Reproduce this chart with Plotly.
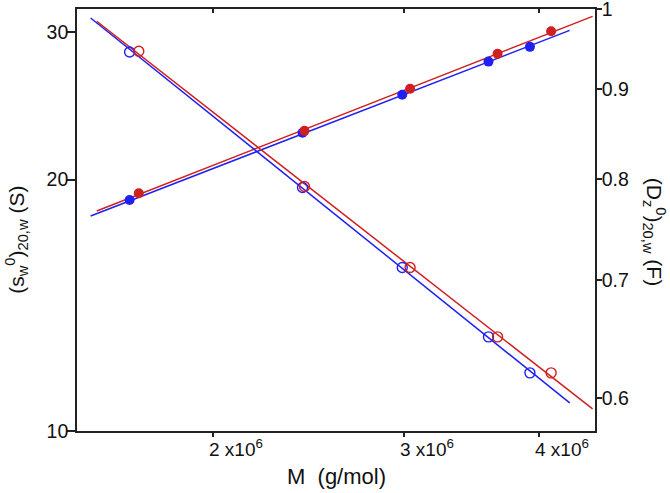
import numpy as np
import plotly.graph_objects as go

# ---- data ----
M_blue = [1.677e6, 2.42e6, 2.99e6, 3.59e6, 3.92e6]
s_blue = [18.9, 22.75, 25.26, 27.68, 28.83]
D_blue = [0.945, 0.791, 0.712, 0.650, 0.620]

M_red = [1.71e6, 2.43e6, 3.04e6, 3.66e6, 4.10e6]
s_red = [19.26, 22.87, 25.68, 28.28, 30.09]
D_red = [0.946, 0.792, 0.712, 0.650, 0.620]

# fitted power-law lines (end points)
fitM_blue = [1.544e6, 4.265e6]
fits_blue = [18.09, 30.17]
fitD_blue = [0.9883, 0.5960]
fitM_red = [1.564e6, 4.477e6]
fits_red = [18.34, 31.36]
fitD_red = [0.984, 0.5913]

x_ticks = [2e6, 3e6, 4e6]
x_ticktext = ["2 x10<sup>6</sup>", "3 x10<sup>6</sup>", "4 x10<sup>6</sup>"]
yl_ticks = [10, 20, 30]
yr_ticks = [0.6, 0.7, 0.8, 0.9, 1.0]
yr_ticktext = ["0.6", "0.7", "0.8", "0.9", "1"]

BLUE = "#2020f5"
RED = "#d01f1f"
FONT = "Liberation Sans, Arial, sans-serif"
AX = "#222222"
TXT = "#111111"

fig = go.Figure()

# fit lines
fig.add_trace(go.Scatter(x=fitM_blue, y=fits_blue, mode="lines", line=dict(color=BLUE, width=1.5), xaxis="x", yaxis="y", hoverinfo="skip"))
fig.add_trace(go.Scatter(x=fitM_red, y=fits_red, mode="lines", line=dict(color=RED, width=1.5), xaxis="x", yaxis="y", hoverinfo="skip"))
fig.add_trace(go.Scatter(x=fitM_blue, y=fitD_blue, mode="lines", line=dict(color=BLUE, width=1.5), xaxis="x", yaxis="y2", hoverinfo="skip"))
fig.add_trace(go.Scatter(x=fitM_red, y=fitD_red, mode="lines", line=dict(color=RED, width=1.5), xaxis="x", yaxis="y2", hoverinfo="skip"))

# data points
fig.add_trace(go.Scatter(x=M_blue, y=s_blue, mode="markers", marker=dict(color=BLUE, size=10, symbol="circle"), xaxis="x", yaxis="y"))
fig.add_trace(go.Scatter(x=M_red, y=s_red, mode="markers", marker=dict(color=RED, size=10, symbol="circle"), xaxis="x", yaxis="y"))
fig.add_trace(go.Scatter(x=M_blue, y=D_blue, mode="markers", marker=dict(color=BLUE, size=10, symbol="circle-open", line=dict(width=1.4, color=BLUE)), xaxis="x", yaxis="y2"))
fig.add_trace(go.Scatter(x=M_red, y=D_red, mode="markers", marker=dict(color=RED, size=10, symbol="circle-open", line=dict(width=1.4, color=RED)), xaxis="x", yaxis="y2"))

# helper trace for the top tick axis
fig.add_trace(go.Scatter(x=[x_ticks[0]], y=[yl_ticks[1]], mode="markers", marker=dict(opacity=0), xaxis="x2", yaxis="y", hoverinfo="skip"))

xr = [np.log10(1.5e6), np.log10(4.5e6)]

fig.update_layout(
    width=670, height=493,
    margin=dict(l=77, r=75, t=9, b=62, autoexpand=False),
    paper_bgcolor="white", plot_bgcolor="white",
    showlegend=False,
    font=dict(family=FONT, size=19, color=TXT),
    xaxis=dict(type="log", range=xr, tickvals=x_ticks, showticklabels=False,
               ticks="outside", ticklen=4, tickwidth=1.5, tickcolor=AX,
               showline=True, linecolor=AX, linewidth=1.6, mirror=True,
               showgrid=False, zeroline=False, automargin=False),
    xaxis2=dict(type="log", range=xr, overlaying="x", side="top", tickvals=x_ticks,
                showticklabels=False, ticks="inside", ticklen=4, tickwidth=1.5, tickcolor=AX,
                showline=False, showgrid=False, zeroline=False, automargin=False),
    yaxis=dict(type="log", range=[1, np.log10(32)], tickvals=yl_ticks, ticktext=[str(v) for v in yl_ticks],
               ticks="outside", ticklen=8, tickwidth=1.5, tickcolor=AX,
               showline=True, linecolor=AX, linewidth=1.6, ticklabelstandoff=-5,
               ticklabeloverflow="allow",
               showgrid=False, zeroline=False, tickfont=dict(size=19.5), automargin=False),
    yaxis2=dict(type="log", range=[np.log10(0.5744), 0], overlaying="y", side="right",
                tickvals=yr_ticks, ticktext=yr_ticktext,
                ticks="outside", ticklen=5, tickwidth=1.5, tickcolor=AX,
                showline=True, linecolor=AX, linewidth=1.6, ticklabelstandoff=-4,
                ticklabeloverflow="allow",
                showgrid=False, zeroline=False, tickfont=dict(size=19.5), automargin=False),
)

# x tick labels: number sits on the tick, "x10^6" runs to the right
for v, t in zip(x_ticks, x_ticktext):
    fig.add_annotation(x=np.log10(v), y=-0.040, xref="x", yref="paper", text=t, showarrow=False,
                       xanchor="left", yanchor="middle", xshift=-6, font=dict(size=19, family=FONT, color=TXT))

# axis titles
fig.add_annotation(x=0.5, y=-0.107, xref="paper", yref="paper", text="M  (g/mol)", showarrow=False,
                   xanchor="center", yanchor="middle", font=dict(size=22, family=FONT, color=TXT))
fig.add_annotation(x=-0.116, y=0.453, xref="paper", yref="paper",
                   text="(s<sub>w</sub><sup>0</sup>)<sub>20,w</sub> (S)", showarrow=False, textangle=-90,
                   xanchor="center", yanchor="middle", font=dict(size=21, family=FONT, color=TXT))
fig.add_annotation(x=1.114, y=0.472, xref="paper", yref="paper",
                   text="(D<sub>z</sub><sup>0</sup>)<sub>20,w</sub> (F)", showarrow=False, textangle=90,
                   xanchor="center", yanchor="middle", font=dict(size=21, family=FONT, color=TXT))

fig.write_html("out.html", config={"displayModeBar": False},
               post_script="document.body.style.margin='0';")
